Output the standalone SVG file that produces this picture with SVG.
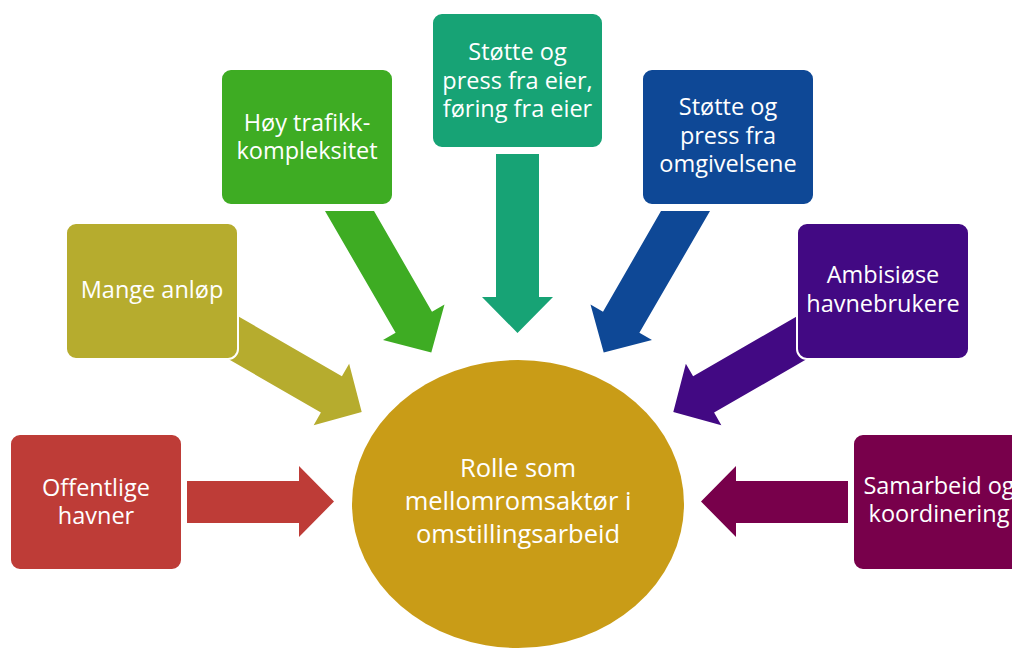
<svg xmlns="http://www.w3.org/2000/svg" width="1012" height="648" viewBox="0 0 1012 648">
<style>
.box{stroke:#ffffff;stroke-width:2}
.t{font-family:"Open Sans","Noto Sans","Liberation Sans",sans-serif;font-size:23.5px;fill:#ffffff;text-anchor:middle}
.c{font-size:25.5px}
</style>
<rect width="1012" height="648" fill="#ffffff"/>
<g id="connectors">
  <polygon id="a-red" fill="#BE3C37" points="187,481 299,481 299,466 334,501.5 299,537 299,523 187,523"/>
  <polygon id="a-olive" fill="#B6AC2E" transform="translate(234.4,338.4) rotate(30)" points="-20,-21 112,-21 112,-35.5 147,0 112,35.5 112,21 -20,21"/>
  <polygon id="a-green" fill="#3EAC23" points="325,211 395.6,332.8 383,340 431.3,352.6 444.5,304.5 432,311.8 374,211"/>
  <polygon id="a-teal" fill="#17A375" points="496,154 539,154 539,297 553,297 517.5,333 482,297 496,297"/>
  <polygon id="a-blue" fill="#0E4896" points="710,211 639.4,332.8 652,340 603.7,352.6 590.5,304.5 603,311.8 661,211"/>
  <polygon id="a-purple" fill="#420983" transform="translate(1035,0) scale(-1,1) translate(234.4,338.4) rotate(30)" points="-20,-21 112,-21 112,-35.5 147,0 112,35.5 112,21 -20,21"/>
  <polygon id="a-plum" fill="#78004B" points="848,481 736,481 736,466 701,501.5 736,537 736,523 848,523"/>
</g>
<g id="center">
  <ellipse cx="518" cy="504" rx="166" ry="144" fill="#C99C17"/>
  <text class="t c"><tspan x="518" y="477">Rolle som</tspan><tspan x="518" y="510">mellomromsaktør i</tspan><tspan x="518" y="543">omstillingsarbeid</tspan></text>
</g>
<g id="offentlige">
  <rect class="box" x="10" y="434" width="172" height="136" rx="10" fill="#BE3C37"/>
  <text class="t"><tspan x="96" y="496">Offentlige</tspan><tspan x="96" y="524">havner</tspan></text>
</g>
<g id="mange">
  <rect class="box" x="66" y="223" width="172" height="136" rx="10" fill="#B6AC2E"/>
  <text class="t"><tspan x="152" y="298">Mange anløp</tspan></text>
</g>
<g id="trafikk">
  <rect class="box" x="221" y="69" width="172" height="136" rx="10" fill="#3EAC23"/>
  <text class="t"><tspan x="307" y="131">Høy trafikk-</tspan><tspan x="307" y="159">kompleksitet</tspan></text>
</g>
<g id="eier">
  <rect class="box" x="432" y="13" width="171" height="135" rx="10" fill="#17A375"/>
  <text class="t"><tspan x="517.5" y="60">Støtte og</tspan><tspan x="517.5" y="88.5">press fra eier,</tspan><tspan x="517.5" y="117">føring fra eier</tspan></text>
</g>
<g id="omgivelsene">
  <rect class="box" x="642" y="69" width="172" height="136" rx="10" fill="#0E4896"/>
  <text class="t"><tspan x="728" y="115">Støtte og</tspan><tspan x="728" y="143.5">press fra</tspan><tspan x="728" y="172">omgivelsene</tspan></text>
</g>
<g id="havnebrukere">
  <rect class="box" x="797" y="223" width="172" height="136" rx="10" fill="#420983"/>
  <text class="t"><tspan x="883" y="283">Ambisiøse</tspan><tspan x="883" y="312">havnebrukere</tspan></text>
</g>
<g id="samarbeid">
  <rect class="box" x="853" y="434" width="172" height="136" rx="10" fill="#78004B"/>
  <text class="t"><tspan x="939" y="494">Samarbeid og</tspan><tspan x="939" y="522">koordinering</tspan></text>
</g>
</svg>
